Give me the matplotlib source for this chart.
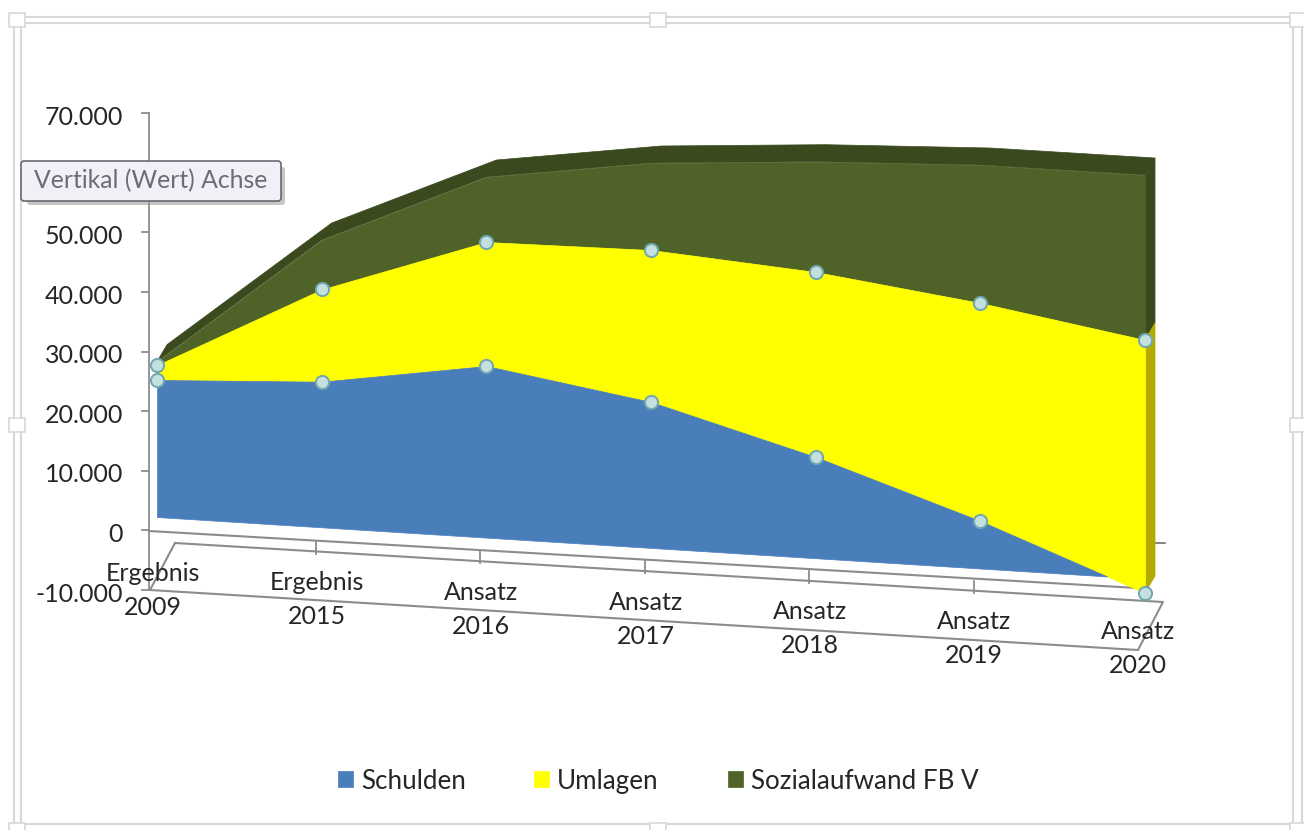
import matplotlib
matplotlib.use("Agg")
import numpy as np
from matplotlib import pyplot as plt
from matplotlib.patches import FancyBboxPatch, Polygon, Rectangle
from matplotlib.transforms import Affine2D

plt.rcParams["font.family"] = ["Lato", "DejaVu Sans"]

categories = ["Ergebnis\n2009", "Ergebnis\n2015", "Ansatz\n2016", "Ansatz\n2017", "Ansatz\n2018", "Ansatz\n2019", "Ansatz\n2020"]
schulden = [22990, 24430, 28790, 24480, 16980, 7970, -2380]
umlagen = [2480, 15470, 20810, 25500, 31040, 36580, 42450]
sozialaufwand = [600, 8300, 10900, 14600, 18510, 23150, 27680]
# the 60.000 label sits behind the tooltip, so it is left out
value_ticks = [70000, 50000, 40000, 30000, 20000, 10000, 0, -10000]

BLUE = "#4a7ebb"
YELLOW = "#ffff00"
OLIVE = "#4f6228"
OLIVE_DARK = "#3b4a1e"
YELLOW_DARK = "#b5aa00"
AXIS = "#8c8c8c"
FRAME = "#d8d8d8"
TEXT = "#262626"

# depth of the 3D extrusion, in category / value units
DEPTH_X = 0.0607
DEPTH_V = 2957

fig = plt.figure(figsize=(13.04, 8.30), dpi=100)
ax = fig.add_axes([0, 0, 1, 1])
ax.set_xlim(0, 1304)
ax.set_ylim(830, 0)
ax.axis("off")

# skewed front plane of the chart and the straight value axis
front = Affine2D.from_values(164.67, 10.3, 0, -0.00596, 157, 517) + ax.transData
value_axis = Affine2D.from_values(1, 0, 0, -0.00596, 0, 530.4) + ax.transData


def draw_frame() -> None:
    for x in (14, 21, 1293, 1302):
        ax.plot([x, x], [17, 824], color=FRAME, lw=1.5, zorder=1)
    for y in (17.5, 23.5):
        ax.plot([14, 1302], [y, y], color=FRAME, lw=1.5, zorder=1)
    ax.plot([21, 1293], [824, 824], color=FRAME, lw=1.5, zorder=1)
    for x, y in [(17, 20), (658, 20), (1298, 20), (17, 425), (1298, 425), (17, 830), (658, 830), (1298, 830)]:
        ax.add_patch(Rectangle((x - 8, y - 7), 16, 14, fc="white", ec=FRAME, lw=1.2, zorder=2))


def draw_axes() -> None:
    ax.plot([149, 149], [113, 590], color=AXIS, lw=1.3, zorder=3)
    for value in value_ticks:
        ax.plot([142, 149], [value, value], color=AXIS, lw=1.3, zorder=3, transform=value_axis)
        label = f"{value:,}".replace(",", ".")
        ax.text(123, value - 700, label, ha="right", va="center", fontsize=18, color=TEXT, zorder=3, transform=value_axis)

    # floor of the chart
    ax.plot([149, 1137], [531, 588], color=AXIS, lw=1.5, zorder=3)
    ax.plot([175, 1163, 1138, 150, 175], [543, 602, 650, 590, 543], color=AXIS, lw=1.5, zorder=3)
    ax.plot([1153, 1165], [543, 543], color="#707070", lw=1.2, zorder=3)
    for i, category in enumerate(categories):
        if 0 < i < len(categories) - 1:
            ax.plot([151 + 164.5 * i] * 2, [532 + 9.7 * i, 544 + 9.7 * i], color=AXIS, lw=1.3, zorder=3)
        x = 153 + 164.2 * i
        word, year = category.split("\n")
        ax.text(x, 573 + 9.7 * i, word, ha="center", va="center", fontsize=18, color=TEXT, zorder=8)
        ax.text(x, 607 + 9.7 * i, year, ha="center", va="center", fontsize=18, color=TEXT, zorder=8)


def draw_areas() -> None:
    x = np.arange(len(categories))
    lower = np.array(schulden)
    middle = lower + np.array(umlagen)
    upper = middle + np.array(sozialaufwand)

    top_band = list(zip(x, upper)) + list(zip(x[::-1] + DEPTH_X, upper[::-1] + DEPTH_V))
    ax.add_patch(Polygon(top_band, fc=OLIVE_DARK, ec=OLIVE_DARK, lw=0.5, zorder=4, transform=front))

    last = x[-1]
    side_olive = [(last, upper[-1]), (last + DEPTH_X, upper[-1] + DEPTH_V), (last + DEPTH_X, middle[-1] + DEPTH_V), (last, middle[-1])]
    side_yellow = [(last, middle[-1]), (last + DEPTH_X, middle[-1] + DEPTH_V), (last + DEPTH_X, lower[-1] + DEPTH_V), (last, lower[-1])]
    ax.add_patch(Polygon(side_olive, fc=OLIVE_DARK, ec=OLIVE_DARK, lw=0.5, zorder=4, transform=front))
    ax.add_patch(Polygon(side_yellow, fc=YELLOW_DARK, ec=YELLOW_DARK, lw=0.5, zorder=4, transform=front))

    ax.fill_between(x, middle, upper, color=OLIVE, lw=0.5, zorder=5, transform=front, label="Sozialaufwand FB V")
    ax.fill_between(x, lower, middle, color=YELLOW, lw=0.5, zorder=6, transform=front, label="Umlagen")
    ax.fill_between(x, 0, lower, where=lower >= 0, interpolate=True, color=BLUE, lw=0.5, zorder=7, transform=front, label="Schulden")

    for series in (lower, middle):
        ax.plot(x, series, ls="none", marker="o", ms=9.5, mfc="#c4e0dc", mec="#6fa6b0", mew=1.4, zorder=9, transform=front)


def draw_tooltip() -> None:
    ax.add_patch(FancyBboxPatch((27, 167), 258, 38, boxstyle="round,pad=0,rounding_size=3", fc="#a0a0a0", ec="none", alpha=0.6, zorder=10))
    ax.add_patch(FancyBboxPatch((21, 161), 260, 40, boxstyle="round,pad=0,rounding_size=3", fc="#f0f0f7", ec="#5e5e68", lw=1.1, zorder=11))
    ax.text(150.5, 181, "Vertikal (Wert) Achse", ha="center", va="center", fontsize=17.8, color="#6c6c78", zorder=12)


def draw_legend() -> None:
    handles, labels = ax.get_legend_handles_labels()
    order = [labels.index(name) for name in ("Schulden", "Umlagen", "Sozialaufwand FB V")]
    ax.legend(
        [handles[i] for i in order],
        [labels[i] for i in order],
        ncols=3,
        loc="center",
        bbox_to_anchor=(658, 781),
        bbox_transform=ax.transData,
        frameon=False,
        fontsize=18.7,
        labelcolor=TEXT,
        handlelength=0.58,
        handleheight=0.58,
        handletextpad=0.3,
        columnspacing=2.65,
    )


def main() -> None:
    draw_frame()
    draw_axes()
    draw_areas()
    draw_tooltip()
    draw_legend()
    fig.savefig("out.png", dpi=100, facecolor="white")


if __name__ == "__main__":
    main()
